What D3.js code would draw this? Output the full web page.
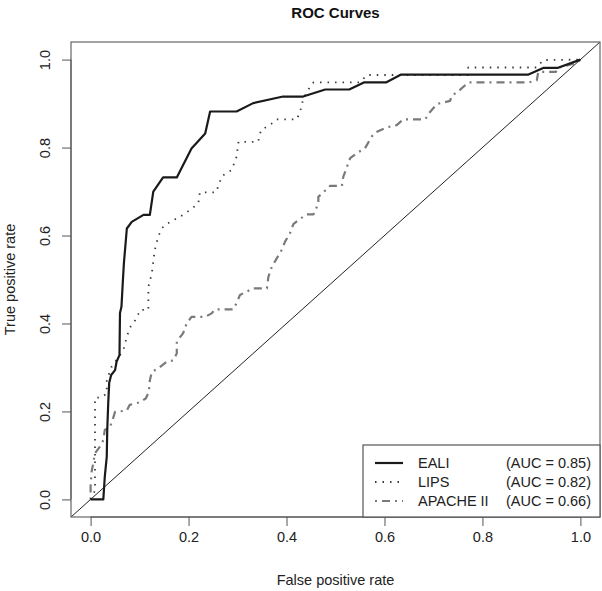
<!DOCTYPE html>
<html>
<head>
<meta charset="utf-8">
<script src="https://cdn.jsdelivr.net/npm/d3@7"></script>
<style>
  html, body { margin: 0; padding: 0; background: #fff; }
  svg { display: block; font-family: "Liberation Sans", Arial, sans-serif; }
</style>
</head>
<body>
<svg id="chart" width="602" height="591"></svg>
<script>
// ---- data ----
const title = "ROC Curves";
const xLabel = "False positive rate";
const yLabel = "True positive rate";
const tickValues = [0.0, 0.2, 0.4, 0.6, 0.8, 1.0];
const seriesNames = ["EALI", "LIPS", "APACHE II"];
const aucLabels = ["(AUC = 0.85)", "(AUC = 0.82)", "(AUC = 0.66)"];

const ealiFpr = [0, 0.026, 0.029, 0.033, 0.034, 0.036, 0.038, 0.042, 0.050, 0.053, 0.059, 0.060, 0.063, 0.066, 0.068, 0.074, 0.084, 0.108, 0.121, 0.128, 0.148, 0.176, 0.206, 0.234, 0.244, 0.298, 0.332, 0.393, 0.434, 0.479, 0.528, 0.558, 0.603, 0.634, 0.894, 0.924, 0.953, 1.0];
const ealiTpr = [0, 0, 0.052, 0.097, 0.158, 0.219, 0.265, 0.283, 0.294, 0.313, 0.328, 0.424, 0.438, 0.499, 0.537, 0.616, 0.631, 0.647, 0.647, 0.700, 0.732, 0.732, 0.798, 0.832, 0.882, 0.882, 0.901, 0.916, 0.916, 0.932, 0.932, 0.948, 0.948, 0.966, 0.966, 0.981, 0.981, 1.0];

const lipsFpr = [0, 0.009, 0.009, 0.023, 0.033, 0.033, 0.043, 0.053, 0.067, 0.074, 0.080, 0.094, 0.101, 0.118, 0.118, 0.125, 0.131, 0.138, 0.145, 0.155, 0.169, 0.183, 0.203, 0.220, 0.223, 0.256, 0.268, 0.288, 0.298, 0.302, 0.342, 0.348, 0.366, 0.380, 0.421, 0.428, 0.434, 0.444, 0.455, 0.550, 0.564, 0.770, 0.771, 0.911, 0.924, 1.0];
const lipsTpr = [0, 0.02, 0.231, 0.232, 0.241, 0.271, 0.302, 0.317, 0.340, 0.370, 0.390, 0.412, 0.431, 0.431, 0.484, 0.514, 0.567, 0.597, 0.616, 0.626, 0.635, 0.643, 0.658, 0.673, 0.698, 0.698, 0.735, 0.749, 0.779, 0.813, 0.813, 0.840, 0.851, 0.864, 0.864, 0.883, 0.910, 0.931, 0.948, 0.948, 0.965, 0.965, 0.982, 0.982, 0.999, 1.0];

const apacheFpr = [0, 0, 0.002, 0.004, 0.009, 0.019, 0.026, 0.029, 0.040, 0.046, 0.050, 0.074, 0.080, 0.101, 0.113, 0.119, 0.121, 0.125, 0.138, 0.155, 0.169, 0.176, 0.176, 0.189, 0.196, 0.206, 0.234, 0.247, 0.254, 0.291, 0.298, 0.305, 0.332, 0.360, 0.363, 0.370, 0.380, 0.390, 0.397, 0.407, 0.414, 0.424, 0.441, 0.455, 0.465, 0.465, 0.475, 0.489, 0.513, 0.516, 0.530, 0.543, 0.560, 0.574, 0.581, 0.605, 0.625, 0.638, 0.683, 0.693, 0.707, 0.734, 0.737, 0.754, 0.771, 0.894, 0.911, 0.914, 0.950, 0.953, 0.992, 1.0];
const apacheTpr = [0, 0.029, 0.063, 0.074, 0.105, 0.120, 0.135, 0.158, 0.165, 0.185, 0.199, 0.202, 0.215, 0.221, 0.230, 0.245, 0.271, 0.290, 0.298, 0.313, 0.316, 0.332, 0.359, 0.378, 0.400, 0.415, 0.415, 0.423, 0.432, 0.432, 0.446, 0.465, 0.480, 0.480, 0.506, 0.529, 0.548, 0.567, 0.586, 0.605, 0.626, 0.635, 0.648, 0.648, 0.673, 0.688, 0.698, 0.713, 0.713, 0.734, 0.776, 0.787, 0.798, 0.825, 0.834, 0.846, 0.851, 0.864, 0.864, 0.881, 0.899, 0.906, 0.917, 0.931, 0.948, 0.948, 0.953, 0.972, 0.972, 0.981, 0.992, 1.0];

// ---- layout ----
const svg = d3.select("#chart");
const box = { left: 71, right: 600, top: 42, bottom: 517 };

const x = d3.scaleLinear().domain([-0.04, 1.04]).range([box.left, box.right]);
const y = d3.scaleLinear().domain([-0.04, 1.04]).range([box.bottom, box.top]);

const series = [
  { name: seriesNames[0], auc: aucLabels[0], fpr: ealiFpr, tpr: ealiTpr, color: "#1a1a1a", width: 2.2, dash: null },
  { name: seriesNames[1], auc: aucLabels[1], fpr: lipsFpr, tpr: lipsTpr, color: "#3a3a3a", width: 1.8, dash: "1.5,6" },
  { name: seriesNames[2], auc: aucLabels[2], fpr: apacheFpr, tpr: apacheTpr, color: "#7a7a7a", width: 2.2, dash: "2,5,8,5" }
];

// title
svg.append("text")
  .attr("x", (box.left + box.right) / 2).attr("y", 18)
  .attr("text-anchor", "middle")
  .attr("font-size", 15).attr("font-weight", "bold")
  .attr("fill", "#111")
  .text(title);

// diagonal reference line: through (0,0) and (1,1), clipped to box
svg.append("line")
  .attr("x1", x(-0.04)).attr("y1", y(-0.04))
  .attr("x2", x(1.04)).attr("y2", y(1.04))
  .attr("stroke", "#222").attr("stroke-width", 1);

// curves
const line = d3.line().x(d => x(d[0])).y(d => y(d[1]));
series.slice().reverse().forEach(s => {
  const pts = s.fpr.map((f, i) => [f, s.tpr[i]]);
  svg.append("path")
    .attr("d", line(pts))
    .attr("fill", "none")
    .attr("stroke", s.color)
    .attr("stroke-width", s.width)
    .attr("stroke-dasharray", s.dash)
    .attr("stroke-linejoin", "round");
});

// box
svg.append("rect")
  .attr("x", box.left).attr("y", box.top)
  .attr("width", box.right - box.left).attr("height", box.bottom - box.top)
  .attr("fill", "none").attr("stroke", "#666").attr("stroke-width", 1.2);

// x axis
const xAxis = svg.append("g")
  .attr("transform", `translate(0,${box.bottom})`)
  .call(d3.axisBottom(x).tickValues(tickValues).tickFormat(d3.format(".1f")).tickSize(9).tickPadding(6));
xAxis.select(".domain").attr("d", `M${x(0)},0H${x(1)}`).attr("stroke", "#555");
xAxis.selectAll(".tick line").attr("stroke", "#555");
xAxis.selectAll(".tick text").attr("font-size", 14.5).attr("fill", "#222")
  .attr("font-family", "Liberation Sans, Arial, sans-serif");

// y axis
const yAxis = svg.append("g")
  .attr("transform", `translate(${box.left},0)`)
  .call(d3.axisLeft(y).tickValues(tickValues).tickFormat(d3.format(".1f")).tickSize(9).tickPadding(5));
yAxis.select(".domain").attr("d", `M0,${y(0)}V${y(1)}`).attr("stroke", "#555");
yAxis.selectAll(".tick line").attr("stroke", "#555");
yAxis.selectAll(".tick text")
  .attr("font-size", 14.5).attr("fill", "#222")
  .attr("font-family", "Liberation Sans, Arial, sans-serif")
  .attr("x", null).attr("dy", null)
  .attr("text-anchor", "middle")
  .attr("transform", "translate(-21,0) rotate(-90)");

// axis labels
svg.append("text")
  .attr("x", (box.left + box.right) / 2).attr("y", 585)
  .attr("text-anchor", "middle").attr("font-size", 14.5).attr("fill", "#222")
  .text(xLabel);
svg.append("text")
  .attr("transform", `translate(15,${(box.top + box.bottom) / 2}) rotate(-90)`)
  .attr("text-anchor", "middle").attr("font-size", 14.5).attr("fill", "#222")
  .text(yLabel);

// legend
const lg = svg.append("g");
lg.append("rect")
  .attr("x", 363).attr("y", 445).attr("width", box.right - 363).attr("height", box.bottom - 445)
  .attr("fill", "#fff").attr("stroke", "#555").attr("stroke-width", 1.2);
series.forEach((s, i) => {
  const yy = 463 + i * 19;
  lg.append("line")
    .attr("x1", 375).attr("x2", 403).attr("y1", yy).attr("y2", yy)
    .attr("stroke", s.color).attr("stroke-width", s.width)
    .attr("stroke-dasharray", s.dash);
  lg.append("text").attr("x", 418).attr("y", yy + 5)
    .attr("font-size", 14.5).attr("fill", "#222").text(s.name);
  lg.append("text").attr("x", 506).attr("y", yy + 5)
    .attr("font-size", 14.5).attr("fill", "#222").text(s.auc);
});
</script>
</body>
</html>
